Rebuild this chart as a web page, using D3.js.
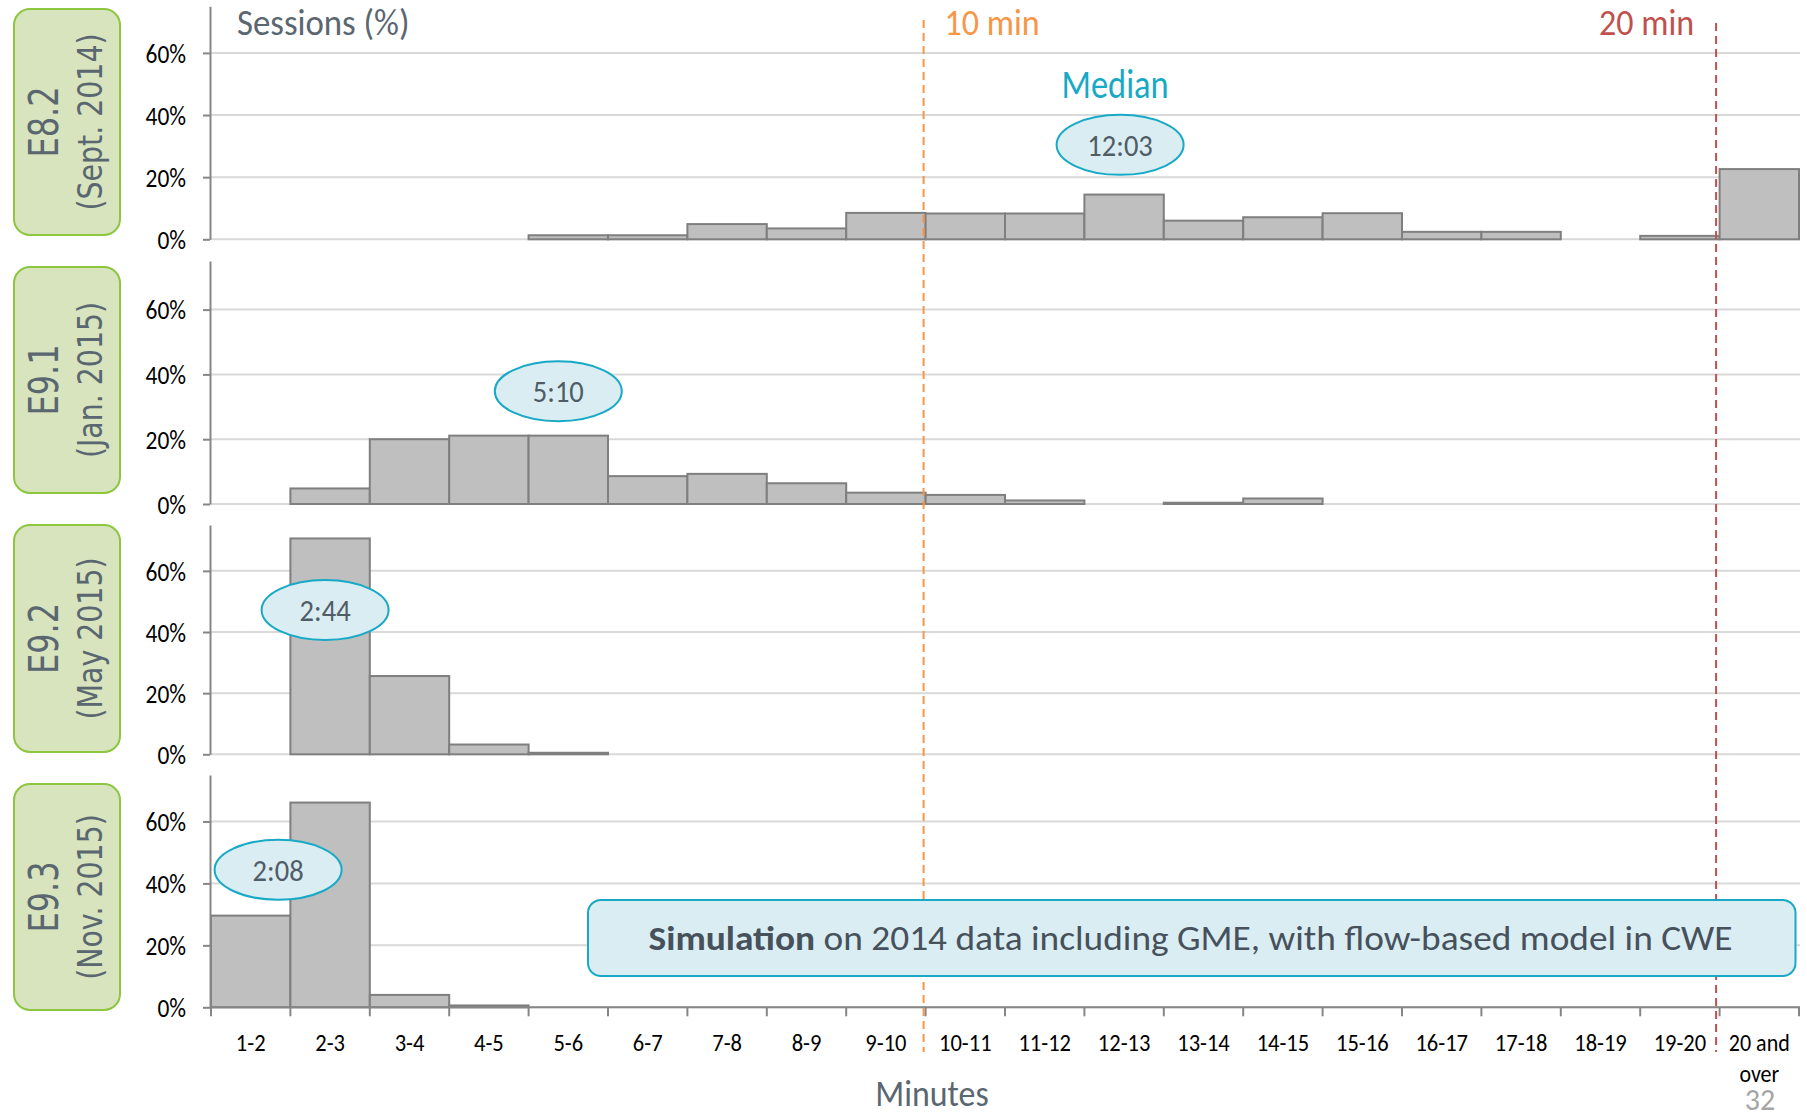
<!DOCTYPE html>
<html><head><meta charset="utf-8">
<script src="https://cdn.jsdelivr.net/npm/d3@7"></script>
<style>body{margin:0;background:#fff;} svg{display:block;}</style>
</head><body>
<svg id="chart" width="1807" height="1117"></svg>
<script>
// ---------- DATA ----------
const categories = ["1-2","2-3","3-4","4-5","5-6","6-7","7-8","8-9","9-10","10-11",
  "11-12","12-13","13-14","14-15","15-16","16-17","17-18","18-19","19-20","20 and over"];
const panelIds = ["E8.2","E9.1","E9.2","E9.3"];
const panelDates = ["(Sept. 2014)","(Jan. 2015)","(May 2015)","(Nov. 2015)"];
const sessionsE82 = [0,0,0,0,1.3,1.3,4.9,3.5,8.5,8.3,8.3,14.4,6.0,7.1,8.4,2.4,2.4,0,1.1,22.6];
const sessionsE91 = [0,4.8,20.0,21.1,21.1,8.6,9.3,6.4,3.5,2.8,1.1,0,0.4,1.7,0,0,0,0,0,0];
const sessionsE92 = [0,70.6,25.6,3.2,0.5,0,0,0,0,0,0,0,0,0,0,0,0,0,0,0];
const sessionsE93 = [29.6,66.1,4.0,0.6,0,0,0,0,0,0,0,0,0,0,0,0,0,0,0,0];
const medianLabels = ["12:03","5:10","2:44","2:08"];
const yTicks = [0,20,40,60];
const thresholdLabels = ["10 min","20 min"];
const thresholdAfter = ["9-10","19-20"];
const yAxisTitle = "Sessions (%)";
const xAxisTitle = "Minutes";
const medianTitle = "Median";
const pageNumber = "32";
const noteBold = "Simulation";
const noteRest = " on 2014 data including GME, with flow-based model in CWE";

const series = [sessionsE82, sessionsE91, sessionsE92, sessionsE93];

// ---------- LAYOUT ----------
const FONT = "Carlito, Calibri, Lato, 'Open Sans', sans-serif";
const TEXT = "#5a6670";
const svg = d3.select("#chart");
const x = d3.scaleBand().domain(categories).range([211, 1799]).padding(0);
const xRight = 1800;

const panels = [
  {top:6.3,  bottom:239.3,  box:[14,9,106,226],  ellCat:"12-13", ellDx:-4,  ellV:30.4},
  {top:261,  bottom:504,    box:[14,267,106,226], ellCat:"5-6",  ellDx:-10, ellV:34.8},
  {top:525,  bottom:754.3,  box:[14,525,106,227], ellCat:"2-3",  ellDx:-5,  ellV:47.2},
  {top:775,  bottom:1007.3, box:[14,784,106,226], ellCat:"2-3",  ellDx:-52, ellV:44.4}
];

function condense(sel, k){
  sel.each(function(){
    const L = this.getComputedTextLength();
    this.setAttribute("textLength", L*k);
    this.setAttribute("lengthAdjust","spacingAndGlyphs");
  });
}

panels.forEach((p, i) => {
  const y = d3.scaleLinear().domain([0,75]).range([p.bottom, p.top]);
  const g = svg.append("g");

  // gridlines
  g.selectAll("line.grid").data(yTicks).join("line")
    .attr("x1", x.range()[0]).attr("x2", xRight)
    .attr("y1", d => y(d)).attr("y2", d => y(d))
    .attr("stroke", "#d9d9d9").attr("stroke-width", 2);

  // bars
  const data = categories.map((c, j) => ({c, v: series[i][j]})).filter(d => d.v > 0);
  g.selectAll("rect.bar").data(data).join("rect")
    .attr("x", d => x(d.c)).attr("width", x.bandwidth())
    .attr("y", d => y(d.v)).attr("height", d => y(0) - y(d.v))
    .attr("fill", "#bfbfbf").attr("stroke", "#7f7f7f").attr("stroke-width", 2);

  // y axis
  const ax = g.append("g").attr("transform", `translate(${x.range()[0]-1},0)`)
    .call(d3.axisLeft(y).tickValues(yTicks).tickFormat(d => d + "%").tickSize(7).tickSizeOuter(0).tickPadding(17));
  ax.select(".domain").attr("stroke", "#868686").attr("stroke-width", 2);
  ax.selectAll(".tick line").attr("stroke", "#868686").attr("stroke-width", 2);
  const tl = ax.selectAll(".tick text").attr("font-family", FONT).attr("font-size", 26).attr("fill", "#000")
    .attr("dy", "0.36em");
  condense(tl, 0.9);

  // label box
  const [bx, by, bw, bh] = p.box;
  g.append("rect").attr("x", bx).attr("y", by).attr("width", bw).attr("height", bh)
    .attr("rx", 16).attr("ry", 16)
    .attr("fill", "#d7e4bd").attr("stroke", "#8dc63f").attr("stroke-width", 2);
  const cy = by + bh/2;
  const t1 = g.append("text").attr("transform", `translate(${bx+43.5},${cy}) rotate(-90)`)
    .attr("text-anchor", "middle").attr("font-family", "'DejaVu Sans', sans-serif")
    .attr("font-size", 40).attr("fill", TEXT).text(panelIds[i]);
  condense(t1, 0.8);
  const t2 = g.append("text").attr("transform", `translate(${bx+87.5},${cy}) rotate(-90)`)
    .attr("text-anchor", "middle").attr("font-family", "'DejaVu Sans', sans-serif")
    .attr("font-size", 33).attr("fill", TEXT).text(panelDates[i]);
  condense(t2, 0.86);

  p.y = y;
});

// bottom x axis
const pb = panels[3];
const bounds = categories.map(c => x(c)).concat([x.range()[1]]);
const xa = svg.append("g");
xa.append("line").attr("x1", x.range()[0]).attr("x2", xRight)
  .attr("y1", pb.bottom).attr("y2", pb.bottom).attr("stroke", "#868686").attr("stroke-width", 2);
xa.selectAll("line.tk").data(bounds).join("line")
  .attr("x1", d => d).attr("x2", d => d).attr("y1", pb.bottom).attr("y2", pb.bottom + 9)
  .attr("stroke", "#868686").attr("stroke-width", 2);
const xl = xa.selectAll("text.xl").data(categories).join("text")
  .attr("x", d => x(d) + x.bandwidth()/2).attr("y", 1051)
  .attr("text-anchor", "middle").attr("font-family", FONT).attr("font-size", 25).attr("fill", "#000")
  .each(function(d){
    const words = d.split(" ");
    const sel = d3.select(this);
    if (words.length > 2) {
      sel.append("tspan").attr("x", x(d) + x.bandwidth()/2).text(words.slice(0,2).join(" "));
      sel.append("tspan").attr("x", x(d) + x.bandwidth()/2).attr("dy", 31).text(words.slice(2).join(" "));
    } else sel.text(d);
  });
xl.filter(d => d.split(" ").length <= 2).call(condense, 0.9);
xl.filter(d => d.split(" ").length > 2).selectAll("tspan").each(function(){
  const L = this.getComputedTextLength();
  this.setAttribute("textLength", L*0.88);
  this.setAttribute("lengthAdjust","spacingAndGlyphs");
});

// median ellipses
panels.forEach((p, i) => {
  const cx = x(p.ellCat) + x.bandwidth()/2 + p.ellDx;
  const cy = p.y(p.ellV);
  svg.append("ellipse").attr("cx", cx).attr("cy", cy).attr("rx", 63.5).attr("ry", 30)
    .attr("fill", "#daedf2").attr("stroke", "#17a9c5").attr("stroke-width", 2);
  const t = svg.append("text").attr("x", cx).attr("y", cy).attr("dy", "0.36em")
    .attr("text-anchor", "middle").attr("font-family", FONT).attr("font-size", 31)
    .attr("fill", "#505c66").text(medianLabels[i]);
  condense(t, 0.92);
  if (i === 0) {
    const m = svg.append("text").attr("x", cx - 5).attr("y", 98).attr("text-anchor", "middle")
      .attr("font-family", FONT).attr("font-size", 40).attr("fill", "#17a9c5").text(medianTitle);
    condense(m, 0.86);
  }
});

// threshold lines
const thrColors = ["#f79646", "#c0504d"];
const thrOffsets = [-2, -3.5];
thresholdAfter.forEach((c, i) => {
  const lx = x(c) + x.bandwidth() + thrOffsets[i];
  svg.append("line").attr("x1", lx).attr("x2", lx).attr("y1", i === 0 ? 20 : 23).attr("y2", 1052)
    .attr("stroke", thrColors[i]).attr("stroke-width", 2).attr("stroke-dasharray", "8,5");
  const tt = svg.append("text").attr("x", i === 0 ? lx + 21 : lx - 22).attr("y", 35)
    .attr("text-anchor", i === 0 ? "start" : "end")
    .attr("font-family", FONT).attr("font-size", 37).attr("fill", thrColors[i]).text(thresholdLabels[i]);
  condense(tt, 0.92);
});

// titles
const st = svg.append("text").attr("x", 237).attr("y", 35).attr("font-family", FONT).attr("font-size", 37)
  .attr("fill", TEXT).text(yAxisTitle);
condense(st, 0.94);
const mt = svg.append("text").attr("x", 932).attr("y", 1106).attr("text-anchor", "middle")
  .attr("font-family", FONT).attr("font-size", 36).attr("fill", TEXT).text(xAxisTitle);
condense(mt, 0.94);
svg.append("text").attr("x", 1760).attr("y", 1110).attr("text-anchor", "middle")
  .attr("font-family", FONT).attr("font-size", 30).attr("fill", "#a5a5a5").text(pageNumber);

// note box
svg.append("rect").attr("x", 588).attr("y", 900).attr("width", 1207.5).attr("height", 76)
  .attr("rx", 13).attr("ry", 13).attr("fill", "#daedf2").attr("stroke", "#17a9c5").attr("stroke-width", 2);
const note = svg.append("text").attr("x", 648.6).attr("y", 950)
  .attr("font-family", FONT).attr("font-size", 35).attr("fill", "#46515c")
  .attr("textLength", 1084).attr("lengthAdjust", "spacingAndGlyphs");
note.append("tspan").attr("font-weight", "bold").text(noteBold);
note.append("tspan").text(noteRest);
</script>
</body></html>
